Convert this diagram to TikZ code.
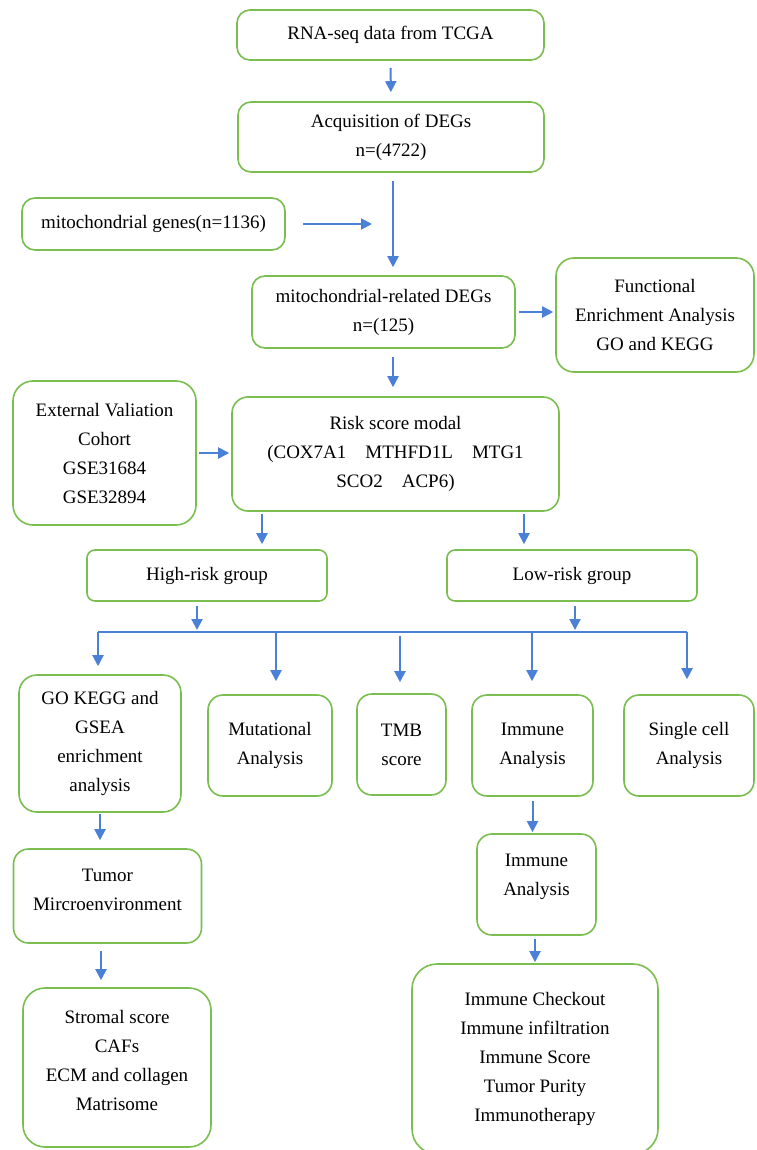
\documentclass[tikz,border=0pt]{standalone}
\usepackage{fontspec}
\setmainfont{Liberation Serif}
\usetikzlibrary{arrows.meta}
\definecolor{boxgreen}{RGB}{122,190,80}
\definecolor{arrblue}{RGB}{74,128,214}

\begin{document}
\begin{tikzpicture}[x=1pt,y=-1pt,font=\fontsize{19}{29}\selectfont,
  box/.style={draw=boxgreen,line width=1.6pt,rounded corners=13pt,align=center,inner sep=0pt},
  arr/.style={arrblue,line width=2pt,-{Triangle[length=11pt,width=11pt]}},
  bus/.style={arrblue,line width=2pt}]

\useasboundingbox (0,0) rectangle (756,1150);

% top chain
\node[box,minimum width=307pt,minimum height=50pt] (rna) at (390.5,35) {RNA-seq data from TCGA};
\node[box,minimum width=306pt,minimum height=70pt] (deg) at (391,137) {Acquisition of DEGs\\n=(4722)};
\node[box,minimum width=263pt,minimum height=52pt] (mito) at (153.5,224) {mitochondrial genes(n=1136)};
\node[box,minimum width=263pt,minimum height=72pt] (mdeg) at (383.5,312) {mitochondrial-related DEGs\\n=(125)};
\node[box,minimum width=198pt,minimum height=114pt,rounded corners=18pt] (func) at (655,315) {Functional\\Enrichment Analysis\\GO and KEGG};
\node[box,minimum width=183pt,minimum height=144pt,rounded corners=20pt] (ext) at (104.5,453) {External Valiation\\Cohort\\GSE31684\\GSE32894};
\node[box,minimum width=327pt,minimum height=114pt,rounded corners=16pt] (risk) at (395.5,454) {Risk score modal\\(COX7A1\quad MTHFD1L\quad MTG1\\SCO2\quad ACP6)};
\node[box,minimum width=240pt,minimum height=51pt,rounded corners=8pt] (high) at (207,575.5) {High-risk group};
\node[box,minimum width=250pt,minimum height=51pt,rounded corners=8pt] (low) at (572,575.5) {Low-risk group};

% analyses
\node[box,minimum width=162pt,minimum height=137pt,rounded corners=18pt] (gokegg) at (100,743.5) {GO KEGG and\\GSEA\\enrichment\\analysis};
\node[box,minimum width=124pt,minimum height=101pt,rounded corners=15pt] (mut) at (270,745.5) {Mutational\\Analysis};
\node[box,minimum width=89pt,minimum height=101pt,rounded corners=15pt] (tmb) at (401.5,744.5) {TMB\\score};
\node[box,minimum width=121pt,minimum height=101pt,rounded corners=15pt] (imm) at (532.5,745.5) {Immune\\Analysis};
\node[box,minimum width=130pt,minimum height=101pt,rounded corners=15pt] (single) at (689,745.5) {Single cell\\Analysis};
\node[box,minimum width=188pt,minimum height=94pt,rounded corners=15pt] (tumor) at (107.5,896) {Tumor\\Mircroenvironment\\[-17pt]\mbox{}};
\node[box,minimum width=119pt,minimum height=101pt,rounded corners=15pt] (imm2) at (536.5,884.5) {Immune\\Analysis\\[-9pt]\mbox{}};
\node[box,minimum width=188pt,minimum height=159pt,rounded corners=22pt] (stromal) at (117,1067.5) {Stromal score\\CAFs\\ECM and collagen\\Matrisome\\[-15pt]\mbox{}};
\node[box,minimum width=246pt,minimum height=190pt,rounded corners=25pt] (big) at (535,1059) {Immune Checkout\\Immune infiltration\\Immune Score\\Tumor Purity\\Immunotherapy};

\coordinate (c1) at (393,0);
\coordinate (c2) at (262,0);
\coordinate (c3) at (524,0);
\coordinate (c4) at (197,0);
\coordinate (c5) at (575,0);
\coordinate (c6) at (101,0);
\coordinate (busL) at (98,632);
\coordinate (busR) at (687,632);
\coordinate (d2) at (276,632);
\coordinate (d3) at (400,632);
\coordinate (d4) at (532,632);

\draw[arr,shorten <=7pt,shorten >=9pt] (rna.south) -- (deg.north);
\draw[arr,shorten <=8pt,shorten >=8pt] (deg.south -| c1) -- (mdeg.north -| c1);
\draw[arr,shorten <=17pt,shorten >=21pt] (mito.east) -- (mito.east -| c1);
\draw[arr,shorten <=3pt,shorten >=2pt] (mdeg.east) -- (mdeg.east -| func.west);
\draw[arr,shorten <=8pt,shorten >=9pt] (mdeg.south -| c1) -- (risk.north -| c1);
\draw[arr,shorten <=2pt,shorten >=2pt] (ext.east) -- (ext.east -| risk.west);
\draw[arr,shorten <=2pt,shorten >=5pt] (risk.south -| c2) -- (high.north -| c2);
\draw[arr,shorten <=2pt,shorten >=5pt] (risk.south -| c3) -- (low.north -| c3);
\draw[arr,shorten <=4pt,shorten >=2pt] (high.south -| c4) -- (busL -| c4);
\draw[arr,shorten <=4pt,shorten >=2pt] (low.south -| c5) -- (busL -| c5);

% bus and drops
\draw[bus] (busL) -- (busR);
\draw[arr,shorten >=8pt] (busL) -- (gokegg.north -| busL);
\draw[arr,shorten >=13pt] (d2) -- (mut.north -| d2);
\draw[arr,shorten <=4pt,shorten >=11pt] (d3) -- (tmb.north -| d3);
\draw[arr,shorten >=13pt] (d4) -- (imm.north -| d4);
\draw[arr,shorten >=15pt] (busR) -- (single.north -| busR);

\draw[arr,shorten <=1pt,shorten >=8pt] (gokegg.south) -- (gokegg.south |- tumor.north);
\draw[arr,shorten <=7pt,shorten >=7pt] (tumor.south -| c6) -- (stromal.north -| c6);
\draw[arr,shorten <=4pt,shorten >=1pt] (imm.south) -- (imm.south |- imm2.north);
\draw[arr,shorten <=3pt,shorten >=1pt] (imm2.south -| big.north) -- (big.north);

\end{tikzpicture}
\end{document}
